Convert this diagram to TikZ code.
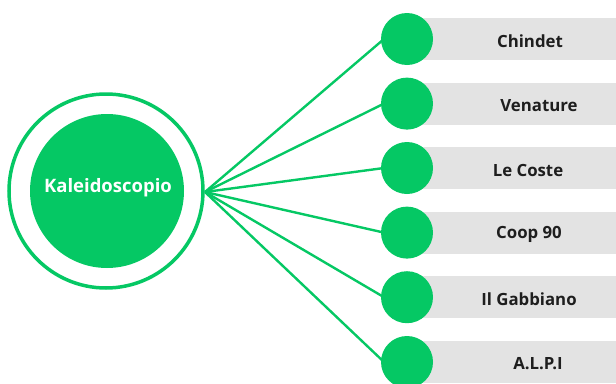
\documentclass[tikz,border=0pt]{standalone}
\usepackage{fontspec}
\setmainfont{Open Sans}
\usetikzlibrary{backgrounds}
\definecolor{grn}{HTML}{05C864}
\definecolor{barg}{HTML}{E3E3E3}
\definecolor{txt}{HTML}{1E1E1E}
\begin{document}
\begin{tikzpicture}[x=1pt,y=-1pt,
  ringnode/.style={circle, draw=grn, line width=3.5pt, minimum size=194pt, inner sep=0pt},
  corenode/.style={circle, fill=grn, minimum size=154pt, inner sep=0pt},
  dot/.style={circle, fill=grn, minimum size=52pt, inner sep=0pt, outer sep=0pt},
  bar/.style={fill=barg, minimum width=209pt, minimum height=42pt, inner sep=0pt, anchor=west},
  lbl/.style={font=\bfseries\fontsize{16.8}{19}\selectfont, text=txt},
  link/.style={draw=grn, line width=2.4pt}]
\useasboundingbox (0,0) rectangle (616,383);
\node[ringnode] (ring) at (106,191) {};
\node[corenode] (core) at (107,191) {};
\node[font=\bfseries\fontsize{18.5}{21}\selectfont, text=white] (klabel) at (108,188) {Kaleidoscopio};
\coordinate (hub) at (205,192);
\foreach \i/\y/\lx/\t in {1/39/530/Chindet, 2/103.6/539/Venature, 3/168/528/Le Coste, 4/232.6/529/Coop 90, 5/297.2/529/Il Gabbiano, 6/362/538/A.L.P.I}{
  \node[dot] (d\i) at (407,\y) {};
  \begin{pgfonlayer}{background}
    \node[bar] (b\i) at (407,\y) {};
    \draw[link] (hub) -- ([xshift=3pt]d\i.west);
  \end{pgfonlayer}
  \node[lbl] (t\i) at (\lx,\y+2) {\t};
}
\end{tikzpicture}
\end{document}
